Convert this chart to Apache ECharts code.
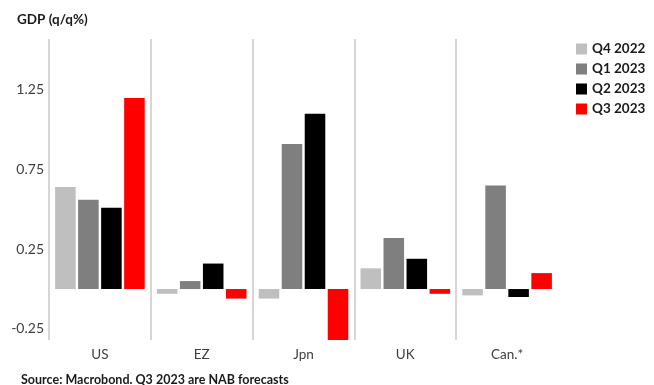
<!DOCTYPE html>
<html>
<head>
<meta charset="utf-8">
<script src="https://cdn.jsdelivr.net/npm/echarts@6/dist/echarts.min.js"></script>
<style>html,body{margin:0;padding:0;background:#fff}#c{width:654px;height:385px}</style>
</head>
<body>
<div id="c"></div>
<script>
const categories = ['US', 'EZ', 'Jpn', 'UK', 'Can.*'];
const seriesNames = ['Q4 2022', 'Q1 2023', 'Q2 2023', 'Q3 2023'];
const q4_2022 = [0.64, -0.03, -0.06, 0.13, -0.04];
const q1_2023 = [0.56, 0.05, 0.91, 0.32, 0.65];
const q2_2023 = [0.51, 0.16, 1.10, 0.19, -0.05];
const q3_2023 = [1.20, -0.06, -0.32, -0.03, 0.10];
const yTickLabels = [-0.25, 0.25, 0.75, 1.25];
const colors = ['#bfbfbf', '#7f7f7f', '#000000', '#ff0000'];

const FONT = 'Lato';
const chart = echarts.init(document.getElementById('c'), null, {renderer: 'canvas'});
const allData = [q4_2022, q1_2023, q2_2023, q3_2023];
chart.setOption({
  animation: false,
  textStyle: {fontFamily: FONT},
  title: [
    {text: 'GDP (q/q%)', left: 12, top: 8, textStyle: {fontFamily: FONT, fontSize: 13.5, fontWeight: 'bold', color: '#1a1a1a'}},
    {text: 'Source: Macrobond. Q3 2023 are NAB forecasts', left: 16, top: 368, textStyle: {fontFamily: FONT, fontSize: 12.5, fontWeight: 'bold', color: '#1a1a1a'}}
  ],
  legend: {
    orient: 'vertical', left: 576, top: 42, padding: 0, itemWidth: 11, itemHeight: 11, itemGap: 6,
    icon: 'rect', data: seriesNames,
    textStyle: {fontFamily: FONT, fontSize: 13.5, fontWeight: 'bold', color: '#1a1a1a'}
  },
  grid: {left: 49, right: 96, top: 39, bottom: 45, containLabel: false},
  xAxis: {
    type: 'category', data: categories,
    axisLine: {show: false}, axisTick: {show: false},
    axisLabel: {fontFamily: FONT, fontSize: 13.5, color: '#404040', margin: 8},
    splitLine: {show: true, showMinLine: true, showMaxLine: false, lineStyle: {color: '#c8c8c8', width: 1.5}}
  },
  yAxis: {
    type: 'value', min: -0.32, max: 1.57,
    axisLine: {show: false}, axisTick: {show: false}, splitLine: {show: false},
    axisLabel: {customValues: yTickLabels, fontFamily: FONT, fontSize: 14, color: '#404040', margin: 5,
      formatter: v => v.toFixed(2)}
  },
  series: seriesNames.map((n, i) => ({
    name: n, type: 'bar', data: allData[i], barGap: '12%', barCategoryGap: '12%',
    itemStyle: {color: colors[i]}
  }))
});
</script>
</body>
</html>
